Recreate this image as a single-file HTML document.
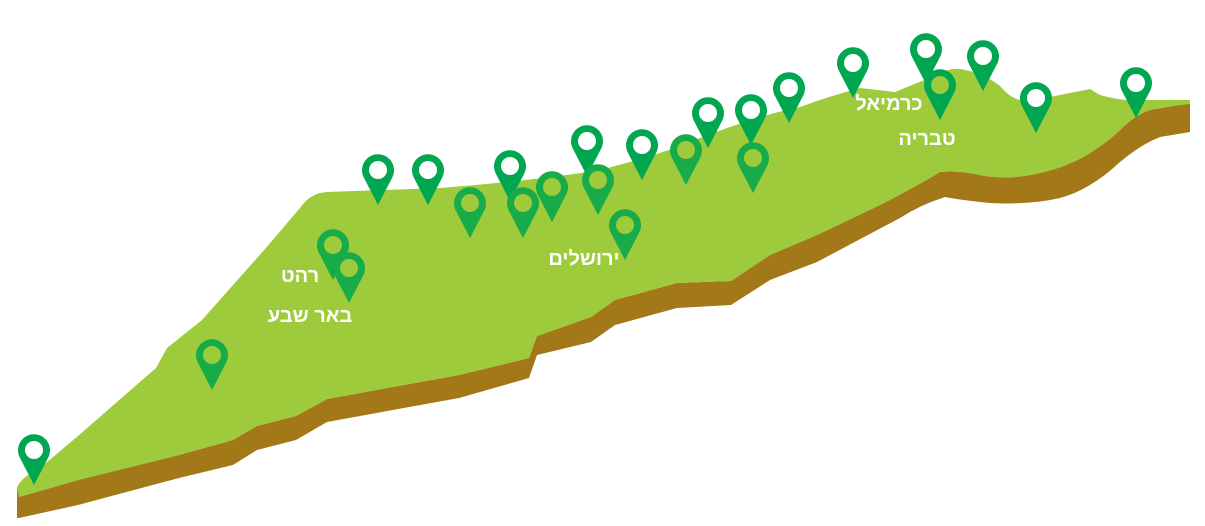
<!DOCTYPE html>
<html><head><meta charset="utf-8"><style>
html,body{margin:0;padding:0;background:#fff;}
svg{display:block}
text{font-family:"Liberation Sans","Noto Sans CJK JP",sans-serif;font-weight:bold;fill:#fff;font-size:20px;text-anchor:middle}
</style></head><body>
<svg width="1205" height="526" viewBox="0 0 1205 526" xmlns="http://www.w3.org/2000/svg">
<defs>
<path id="pin" d="M-14,8 L0,35 L14,8 A16,16 0 1 0 -14,8 Z"/>
</defs>
<!-- brown extrusion -->
<path fill="#a27818" d="M1190,103 L1190,132 L1160,137 Q1140,145 1120,162 Q1090,190 1060,198 Q1030,205 990,203 Q960,200 945,197 Q920,205 900,218 L817,262 L770,280 L731,305 L677,308 L615,325 L591,342 L537,355 L529,378 L459,398 L327,422 L296,440 L257,450 L233,465 L179,478 L78,505 L19,518 L17,518 L17,486 L19,497 L78,480 L179,455 L233,440 L257,426 L296,416 L327,399 L459,375 L529,358 L537,336 L591,317 L615,300 L677,283 L731,281 L770,255 L817,235 L880,205 Q910,190 940,172 Q960,170 985,176 Q1010,180 1040,173 Q1070,166 1090,153 Q1110,140 1120,130 Q1135,115 1150,110 Z"/>
<!-- green top -->
<path fill="#9dcb3b" d="M17,488 Q20,478 40,468 L78,436 L156,368 L167,348 L202,320 L265,249 L300,208 Q310,193 327,192 L440,188 Q540,180 600,170 Q660,155 700,138 Q760,115 800,107 Q830,96 860,88 L895,92 L934,76 Q950,66 965,70 Q985,74 1000,86 Q1010,98 1020,100 L1050,97 L1090,89 L1100,95 Q1120,101 1140,100 L1190,100 L1190,104 Q1170,106 1150,110 Q1135,115 1120,130 Q1110,140 1090,153 Q1070,166 1040,173 Q1010,180 985,176 Q960,170 940,172 Q910,190 880,205 L817,235 L770,255 L731,281 L677,283 L615,300 L591,317 L537,336 L529,358 L459,375 L327,399 L296,416 L257,426 L233,440 L179,455 L78,480 L19,497 Z"/>
<g fill="#00a650">
<use href="#pin" x="34" y="450"/><use href="#pin" x="378" y="170"/><use href="#pin" x="428" y="170"/>
<use href="#pin" x="510" y="166"/><use href="#pin" x="587" y="141"/><use href="#pin" x="642" y="145"/>
<use href="#pin" x="708" y="113"/><use href="#pin" x="751" y="110"/><use href="#pin" x="789" y="88"/>
<use href="#pin" x="853" y="63"/><use href="#pin" x="926" y="49"/><use href="#pin" x="983" y="56"/>
<use href="#pin" x="1036" y="98"/><use href="#pin" x="1136" y="83"/>
<g fill="#17ab4a">
<use href="#pin" x="212" y="355"/><use href="#pin" x="333" y="245"/><use href="#pin" x="349" y="268"/>
<use href="#pin" x="470" y="203"/><use href="#pin" x="523" y="203"/><use href="#pin" x="552" y="187"/>
<use href="#pin" x="598" y="180"/><use href="#pin" x="625" y="225"/><use href="#pin" x="686" y="150"/>
<use href="#pin" x="753" y="158"/>
</g>
<use href="#pin" x="940" y="85" fill="#00a650"/>
</g>
<g fill="#fff">
<circle cx="34" cy="450" r="9"/><circle cx="378" cy="170" r="9"/><circle cx="428" cy="170" r="9"/>
<circle cx="510" cy="166" r="9"/><circle cx="587" cy="141" r="9"/><circle cx="642" cy="145" r="9"/>
<circle cx="708" cy="113" r="9"/><circle cx="751" cy="110" r="9"/><circle cx="789" cy="88" r="9"/>
<circle cx="853" cy="63" r="9"/><circle cx="926" cy="49" r="9"/><circle cx="983" cy="56" r="9"/>
<circle cx="1036" cy="98" r="9"/><circle cx="1136" cy="83" r="9"/>
</g>
<g fill="#9dcb3b">
<circle cx="212" cy="355" r="9"/><circle cx="333" cy="245" r="9"/><circle cx="349" cy="268" r="9"/>
<circle cx="470" cy="203" r="9"/><circle cx="523" cy="203" r="9"/><circle cx="552" cy="187" r="9"/>
<circle cx="598" cy="180" r="9"/><circle cx="625" cy="225" r="9"/><circle cx="686" cy="150" r="9"/>
<circle cx="753" cy="158" r="9"/><circle cx="940" cy="85" r="9"/>
</g>
<text x="300" y="282">רהט</text>
<text x="310" y="322">באר שבע</text>
<text x="584" y="265">ירושלים</text>
<text x="889" y="110">כרמיאל</text>
<text x="927" y="145">טבריה</text>
</svg>
</body></html>
